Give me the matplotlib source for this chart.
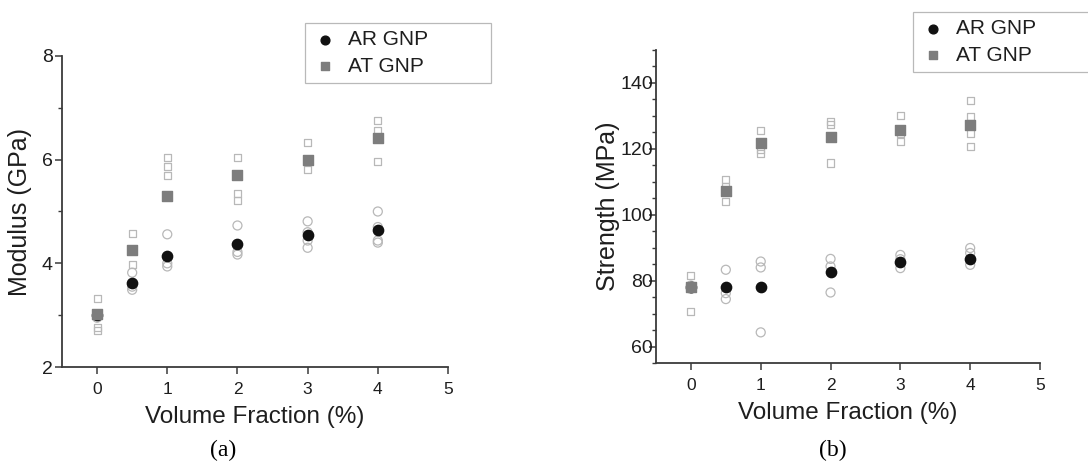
import matplotlib
matplotlib.use("Agg")
import matplotlib.pyplot as plt
from matplotlib.ticker import MultipleLocator

# volume fraction (%) of the sample groups
vf = [0, 0.5, 1, 2, 3, 4]

# modulus (GPa): group means and individual specimens
mod_ar_mean = [3.0, 3.63, 4.15, 4.37, 4.54, 4.64]
mod_at_mean = [3.02, 4.26, 5.29, 5.71, 5.99, 6.42]
mod_ar_pts = [[3.0, 2.95], [3.82, 3.49, 3.55], [4.56, 3.94, 4.0],
              [4.73, 4.22, 4.17], [4.81, 4.44, 4.30, 4.6], [5.0, 4.44, 4.40, 4.7]]
mod_at_pts = [[3.32, 2.77, 2.70], [4.57, 3.98], [6.05, 5.86, 5.70],
              [6.05, 5.34, 5.22], [6.33, 5.81], [6.76, 6.57, 5.97]]

# strength (MPa): group means and individual specimens
str_ar_mean = [78.0, 78.0, 78.0, 82.5, 85.6, 86.7]
str_at_mean = [78.2, 107.1, 121.8, 123.6, 125.8, 127.3]
str_ar_pts = [[78.5, 77.5], [83.3, 76.2, 74.4], [85.8, 84.0, 64.3],
              [86.6, 76.4, 84.3], [87.8, 83.8, 86.5], [89.9, 84.8, 88.4]]
str_at_pts = [[81.5, 70.6], [110.8, 104.1, 108.5], [125.6, 118.7, 119.7],
              [128.4, 127.3, 115.7], [130.1, 122.3, 124.8], [134.7, 129.9, 120.8, 124.8]]

plt.rcParams["font.family"] = ["Liberation Sans", "DejaVu Sans"]

fig = plt.figure(figsize=(10.88, 4.73), dpi=100)
W, H = 1088, 473
ax1 = fig.add_axes([62 / W, 1 - 367 / H, (448 - 62) / W, (367 - 56) / H])
ax2 = fig.add_axes([656 / W, 1 - 363 / H, (1040 - 656) / W, (363 - 50) / H])

axis_col = "#3a3a3a"
text_col = "#1e1e1e"
open_col = "#b8b8b8"


def draw(ax, ar_pts, at_pts, ar_mean, at_mean):
    for x, ys in zip(vf, ar_pts):
        ax.scatter([x] * len(ys), ys, s=42, marker="o", facecolors="none",
                   edgecolors=open_col, linewidths=0.9, zorder=2)
    for x, ys in zip(vf, at_pts):
        ax.scatter([x] * len(ys), ys, s=26, marker="s", facecolors="none",
                   edgecolors=open_col, linewidths=0.9, zorder=2)
    ax.scatter(vf, ar_mean, s=55, marker="o", color="#111111", zorder=3,
               label="AR GNP")
    ax.scatter(vf, at_mean, s=50, marker="s", color="#7d7d7d", zorder=4,
               label="AT GNP")
    ax.set_xlim(-0.5, 5)
    ax.set_xticks(range(6))
    for s in ("top", "right"):
        ax.spines[s].set_visible(False)
    for s in ("left", "bottom"):
        ax.spines[s].set_color(axis_col)
        ax.spines[s].set_linewidth(1.3)
    ax.tick_params(axis="both", which="both", direction="out", color=axis_col)
    ax.tick_params(axis="both", which="major", length=5, width=1.1)
    ax.tick_params(axis="y", which="minor", length=3, width=1.0)
    ax.tick_params(axis="y", labelsize=14, labelcolor=text_col)
    ax.tick_params(axis="x", labelsize=12.5, pad=6, labelcolor=text_col)
    ax.set_xlabel("Volume Fraction (%)", fontsize=17.5, color=text_col,
                  labelpad=6)


draw(ax1, mod_ar_pts, mod_at_pts, mod_ar_mean, mod_at_mean)
ax1.set_ylim(2, 8)
ax1.yaxis.set_major_locator(MultipleLocator(2))
ax1.yaxis.set_minor_locator(MultipleLocator(1))
ax1.tick_params(axis="y", pad=1.5)
ax1.set_ylabel("Modulus (GPa)", fontsize=18, color=text_col, labelpad=7)

draw(ax2, str_ar_pts, str_at_pts, str_ar_mean, str_at_mean)
ax2.set_ylim(55, 150)
ax2.yaxis.set_minor_locator(MultipleLocator(5))
ax2.set_yticks(range(60, 141, 20))
ax2.tick_params(axis="y", pad=-3)
ax2.set_ylabel("Strength (MPa)", fontsize=18, color=text_col, labelpad=0)

leg_kw = dict(fontsize=15, frameon=True, fancybox=False, borderpad=0.35,
              handletextpad=0.5, labelspacing=0.35, markerscale=0.85,
              handlelength=1.2, borderaxespad=0, mode="expand")
l1 = ax1.legend(loc="upper left",
                bbox_to_anchor=(305 / W, 1 - 82 / H, 186 / W, 59 / H),
                bbox_transform=fig.transFigure, **leg_kw)
l2 = ax2.legend(loc="upper left",
                bbox_to_anchor=(913 / W, 1 - 71 / H, 200 / W, 59 / H),
                bbox_transform=fig.transFigure, **leg_kw)
for leg in (l1, l2):
    leg.get_frame().set_edgecolor("#a8a8a8")
    leg.get_frame().set_linewidth(0.9)
    leg.set_zorder(10)
    for t in leg.get_texts():
        t.set_color(text_col)

fig.text(223 / W, 1 - 450 / H, "(a)", fontsize=17, family=["Liberation Serif"],
         ha="center", va="center")
fig.text(833 / W, 1 - 450 / H, "(b)", fontsize=17, family=["Liberation Serif"],
         ha="center", va="center")

fig.savefig("out.png", dpi=100)
